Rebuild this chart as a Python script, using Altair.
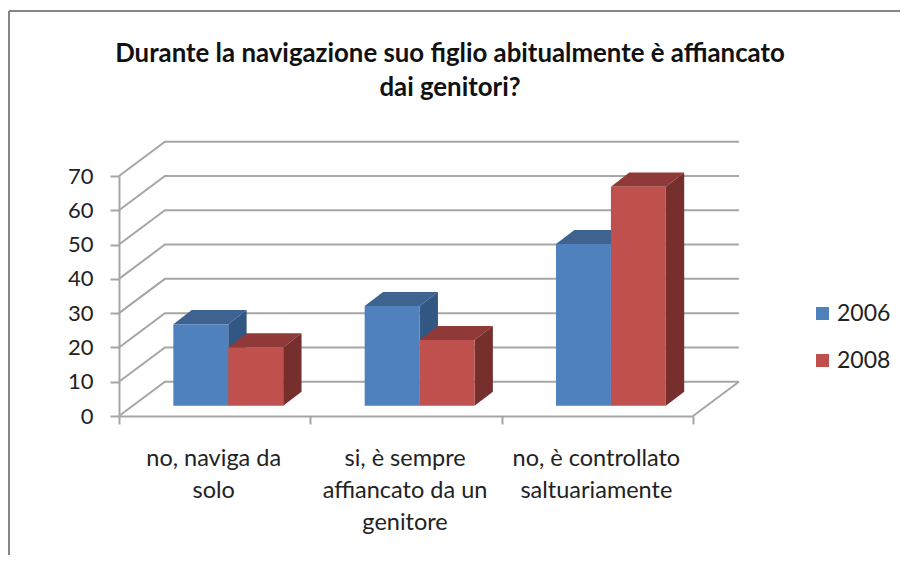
import altair as alt
import pandas as pd

title_text = "Durante la navigazione suo figlio abitualmente è affiancato\ndai genitori?"
categories = ["no, naviga da\nsolo", "si, è sempre\naffiancato da un\ngenitore", "no, è controllato\nsaltuariamente"]
series = ["2006", "2008"]
values_2006 = [24.2, 29.6, 48.0]
values_2008 = [17.3, 19.5, 65.0]
tick_values = [0, 10, 20, 30, 40, 50, 60, 70]
colors = {"2006": "#4f81bd", "2008": "#c0504d"}
top_colors = {"2006": "#3e6391", "2008": "#8f3a38"}
side_colors = {"2006": "#325782", "2008": "#772f2d"}

# perspective of the drawing, in axis units
BACK_X, BACK_Y = 0.24, 10
BAR_DX, BAR_DY = 0.096, 4.1
BAR_BASE, BAR_SCALE = 3.0, 0.983
BAR_START, BAR_W = 0.284, 0.287
GRID = "#a6a6a6"
FONT = "Lato"
W, H = 574, 240

xs = alt.Scale(domain=[0, 3], nice=False, zero=False)
ys = alt.Scale(domain=[0, 70], nice=False, zero=False)
x_axis = alt.Axis(values=[0, 1, 2, 3], labels=False, tickSize=8, tickWidth=2, tickColor=GRID,
                  domainColor=GRID, domainWidth=2, grid=False, title=None)
y_axis = alt.Axis(values=tick_values, tickSize=9, tickWidth=2, tickColor=GRID, domainColor=GRID,
                  domainWidth=2, grid=False, labelFont=FONT, labelFontSize=22, labelColor="#222222",
                  labelPadding=17, title=None)
X = alt.X("x:Q", scale=xs, axis=x_axis)
Y = alt.Y("y:Q", scale=ys, axis=y_axis, stack=None)
Y2 = alt.Y2("y2:Q")

layers = []

# walls
grid_rows = []
for v in tick_values:
    grid_rows += [
        {"x": 0, "y": v, "g": v},
        {"x": BACK_X, "y": v + BACK_Y, "g": v},
        {"x": 3 + BACK_X, "y": v + BACK_Y, "g": v},
    ]
grid_rows += [{"x": 3, "y": 0, "g": -1}, {"x": 3 + BACK_X, "y": BACK_Y, "g": -1}]
layers.append(
    alt.Chart(pd.DataFrame(grid_rows)).mark_line(color=GRID, strokeWidth=2, clip=False).encode(
        x=X, y=alt.Y("y:Q", scale=ys, axis=y_axis), detail="g:N")
)

# bars
for k in range(len(categories)):
    for s, name in enumerate(series):
        v = (values_2006 if s == 0 else values_2008)[k]
        x0 = k + BAR_START + s * BAR_W
        x1 = x0 + BAR_W
        y0 = BAR_BASE
        y1 = BAR_BASE + v * BAR_SCALE
        top = pd.DataFrame({
            "x": [x0, x0 + BAR_DX, x1, x1 + BAR_DX],
            "y": [y1, y1, y1, y1 + BAR_DY],
            "y2": [y1, y1 + BAR_DY, y1 + BAR_DY, y1 + BAR_DY],
        })
        side = pd.DataFrame({
            "x": [x1, x1 + BAR_DX],
            "y": [y0, y0 + BAR_DY],
            "y2": [y1, y1 + BAR_DY],
        })
        front = pd.DataFrame({"x": [x0], "x2": [x1], "y": [y0], "y2": [y1], "serie": [name]})
        layers.append(alt.Chart(top).mark_area(color=top_colors[name], clip=False).encode(x=X, y=Y, y2=Y2))
        layers.append(alt.Chart(side).mark_area(color=side_colors[name], clip=False).encode(x=X, y=Y, y2=Y2))
        layers.append(
            alt.Chart(front).mark_rect(clip=False).encode(
                x=X, x2=alt.X2("x2:Q"), y=alt.Y("y:Q", scale=ys, axis=y_axis), y2=Y2,
                color=alt.Color("serie:N", scale=alt.Scale(domain=series, range=[colors[n] for n in series]),
                                legend=alt.Legend(
                                    title=None, orient="none", legendX=692, legendY=126,
                                    symbolType="square", symbolSize=170, symbolStrokeWidth=0,
                                    labelFont=FONT, labelFontSize=23, labelColor="#222222",
                                    rowPadding=23, labelOffset=3)),
            )
        )

# category labels
cat_df = pd.DataFrame({"x": [0.495, 1.495, 2.495], "label": categories})
layers.append(
    alt.Chart(cat_df).mark_text(font=FONT, fontSize=23.5, color="#222222", lineBreak="\n", lineHeight=32,
                                baseline="top", align="center", clip=False).encode(
        x=X, y=alt.value(H + 31), text="label:N")
)

# title
title_df = pd.DataFrame({"label": [title_text]})
layers.append(
    alt.Chart(title_df).mark_text(font=FONT, fontSize=25.8, fontWeight="bold", color="#111111", lineBreak="\n",
                                  lineHeight=34, baseline="top", align="center", clip=False).encode(
        x=alt.value(331), y=alt.value(-134), text="label:N")
)

# chart frame
layers.append(alt.Chart(title_df).mark_rule(color="#868686", strokeWidth=2, clip=False).encode(
    x=alt.value(-110), y=alt.value(-165), y2=alt.value(H + 139)))
layers.append(alt.Chart(title_df).mark_rule(color="#868686", strokeWidth=2, clip=False).encode(
    y=alt.value(-165), x=alt.value(-110), x2=alt.value(W + 207)))

chart = alt.layer(*layers).properties(
    width=W, height=H,
    padding={"left": 111, "top": 168, "right": 207, "bottom": 139},
    autosize=alt.AutoSizeParams(type="none"),
).configure_view(stroke=None)

chart.save("out.html", embed_options={"renderer": "svg", "actions": False})
